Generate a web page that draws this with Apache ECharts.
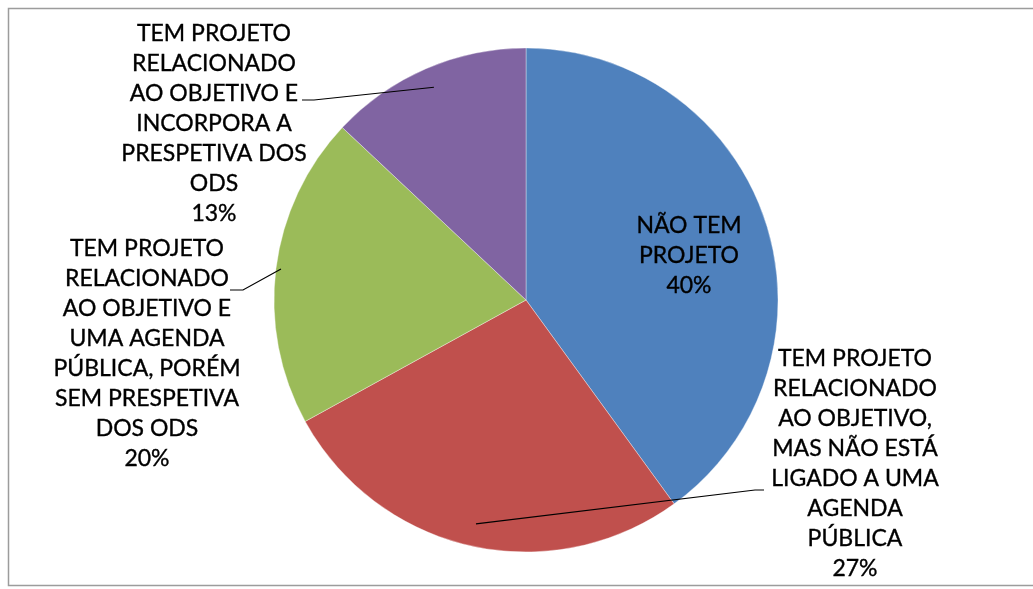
<!DOCTYPE html>
<html>
<head>
<meta charset="utf-8">
<script src="https://cdn.jsdelivr.net/npm/echarts@6/dist/echarts.min.js"></script>
<style>
html,body{margin:0;padding:0;background:#fff;}
#chart{width:1033px;height:589px;}
</style>
</head>
<body>
<div id="chart"></div>
<script>
// ---- data ----
const categories = [
  'NÃO TEM\nPROJETO',
  'TEM PROJETO\nRELACIONADO\nAO OBJETIVO,\nMAS NÃO ESTÁ\nLIGADO A UMA\nAGENDA\nPÚBLICA',
  'TEM PROJETO\nRELACIONADO\nAO OBJETIVO E\nUMA AGENDA\nPÚBLICA, PORÉM\nSEM PRESPETIVA\nDOS ODS',
  'TEM PROJETO\nRELACIONADO\nAO OBJETIVO E\nINCORPORA A\nPRESPETIVA DOS\nODS'
];
const values = [40, 27, 20, 13];
const colors = ['#4F81BD', '#C0504D', '#9BBB59', '#8064A2'];

// ---- layout (presentation only) ----
const CENTER = [526, 300];
const RADIUS = 252;
const labelPos = [
  {x: 689, y: 256},
  {x: 855, y: 464},
  {x: 147, y: 354},
  {x: 214, y: 124}
];
const lineBends = [
  null,
  [[755, 490], [764, 490]],
  [[243, 290], [230, 290]],
  [[314, 100], [302, 100]]
];
const innerFactor = [0, 0.91, 0.98, 0.92];

const chart = echarts.init(document.getElementById('chart'));
const total = values.reduce((a, b) => a + b, 0);

function innerPoint(i) {
  let cum = 0;
  for (let k = 0; k < i; k++) cum += values[k];
  const a = (cum + values[i] / 2) / total * 2 * Math.PI;
  const r = RADIUS * innerFactor[i];
  return [CENTER[0] + r * Math.sin(a), CENTER[1] - r * Math.cos(a)];
}

const leaderLines = [];
values.forEach((v, i) => {
  if (!lineBends[i]) return;
  leaderLines.push({
    type: 'polyline',
    z: 100,
    silent: true,
    shape: {points: [innerPoint(i), lineBends[i][0], lineBends[i][1]]},
    style: {stroke: '#000', lineWidth: 1.2, fill: null}
  });
});

chart.setOption({
  animation: false,
  backgroundColor: '#ffffff',
  graphic: [{
    type: 'rect',
    shape: {x: 8.5, y: 8.5, width: 1100, height: 577},
    style: {fill: 'none', stroke: '#9c9c9c', lineWidth: 1.5},
    silent: true
  }].concat(leaderLines),
  series: [{
    type: 'pie',
    center: CENTER,
    radius: RADIUS,
    startAngle: 90,
    clockwise: true,
    avoidLabelOverlap: false,
    itemStyle: {borderColor: 'rgba(255,255,255,0.6)', borderWidth: 0.6},
    label: {
      show: true,
      position: 'outside',
      formatter: p => p.name + '\n' + p.value + '%',
      fontFamily: 'Lato',
      fontSize: 23,
      lineHeight: 30,
      color: '#000',
      textBorderColor: '#000',
      textBorderWidth: 0.35,
      align: 'center'
    },
    labelLine: {show: false},
    labelLayout: function (params) {
      const i = params.dataIndex;
      return {x: labelPos[i].x, y: labelPos[i].y, align: 'center', verticalAlign: 'middle'};
    },
    data: categories.map((c, i) => ({
      name: c,
      value: values[i],
      itemStyle: {color: colors[i]},
      label: i === 0 ? {position: 'inside'} : undefined
    }))
  }]
});
</script>
</body>
</html>
